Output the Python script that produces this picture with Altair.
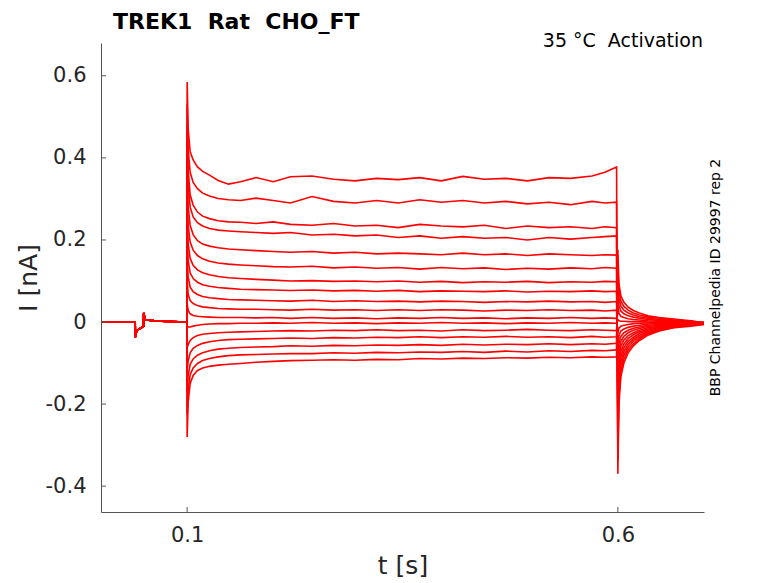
import altair as alt
import pandas as pd

# ---- axis settings ----
X_TICKS = [0.1, 0.6]
Y_TICKS = [-0.4, -0.2, 0.0, 0.2, 0.4, 0.6]
X_DOMAIN = [0.0, 0.7]
Y_DOMAIN = [-0.463, 0.68]

TITLE = "TREK1\u00a0 Rat\u00a0 CHO_FT"
NOTE = "35 °C\u00a0 Activation"
SIDE = "BBP Channelpedia ID 29997 rep 2"

# ---- common pre-pulse segment (s, nA) ----
PRE_T = [0.0, 0.0397, 0.0399, 0.0415, 0.046, 0.0493, 0.0496, 0.0515, 0.07, 0.0998]
PRE_I = [0.0, 0.0, -0.037, -0.021, -0.015, -0.011, 0.022, 0.005, 0.002, 0.0]

# ---- step segment and tail segment time points (s) ----
STEP_T = [0.1, 0.1012, 0.1035, 0.107, 0.112, 0.118, 0.126, 0.136, 0.148, 0.162,
          0.18, 0.2, 0.22, 0.245, 0.27, 0.295, 0.32, 0.345, 0.37, 0.395,
          0.42, 0.445, 0.47, 0.495, 0.52, 0.545, 0.57, 0.585, 0.5985]
TAIL_T = [0.6, 0.6012, 0.6035, 0.607, 0.612, 0.618, 0.625, 0.635, 0.648, 0.665, 0.685, 0.7]

# ---- current traces (nA): step values then tail values ----
TR01 = [0.585, 0.47, 0.415, 0.395, 0.378, 0.367, 0.358, 0.345, 0.336, 0.342,
        0.352, 0.342, 0.354, 0.356, 0.348, 0.344, 0.35, 0.347, 0.352, 0.344,
        0.355, 0.348, 0.35, 0.344, 0.352, 0.35, 0.356, 0.365, 0.378,
        -0.37, -0.2, -0.133, -0.1, -0.075, -0.058, -0.045, -0.032, -0.022, -0.014, -0.01, -0.006]
TR02 = [0.531, 0.42, 0.365, 0.34, 0.325, 0.314, 0.307, 0.301, 0.298, 0.296,
        0.302, 0.296, 0.29, 0.306, 0.294, 0.29, 0.296, 0.29, 0.298, 0.292,
        0.296, 0.29, 0.294, 0.288, 0.292, 0.286, 0.294, 0.29, 0.292,
        -0.335, -0.181, -0.121, -0.09, -0.068, -0.053, -0.041, -0.029, -0.02, -0.013, -0.008, -0.005]
TR03 = [0.477, 0.37, 0.31, 0.285, 0.268, 0.258, 0.252, 0.247, 0.244, 0.243,
        0.24, 0.244, 0.238, 0.236, 0.24, 0.234, 0.236, 0.23, 0.238, 0.234,
        0.232, 0.236, 0.228, 0.234, 0.23, 0.232, 0.228, 0.232, 0.23,
        -0.3, -0.162, -0.108, -0.081, -0.061, -0.047, -0.037, -0.026, -0.018, -0.012, -0.007, -0.003]
TR04 = [0.423, 0.33, 0.28, 0.256, 0.242, 0.234, 0.228, 0.224, 0.222, 0.22,
        0.218, 0.216, 0.218, 0.212, 0.214, 0.21, 0.212, 0.206, 0.21, 0.204,
        0.208, 0.204, 0.206, 0.2, 0.206, 0.202, 0.206, 0.208, 0.21,
        -0.266, -0.144, -0.096, -0.072, -0.054, -0.042, -0.033, -0.023, -0.016, -0.01, -0.006, -0.005]
TR05 = [0.369, 0.28, 0.235, 0.213, 0.198, 0.19, 0.185, 0.181, 0.178, 0.176,
        0.174, 0.172, 0.17, 0.172, 0.168, 0.17, 0.166, 0.168, 0.166, 0.164,
        0.168, 0.164, 0.166, 0.162, 0.166, 0.164, 0.162, 0.164, 0.163,
        -0.232, -0.125, -0.084, -0.063, -0.047, -0.037, -0.028, -0.02, -0.014, -0.009, -0.005, -0.002]
TR06 = [0.315, 0.235, 0.195, 0.175, 0.162, 0.154, 0.148, 0.144, 0.141, 0.139,
        0.137, 0.135, 0.134, 0.136, 0.132, 0.134, 0.131, 0.133, 0.129, 0.133,
        0.13, 0.132, 0.128, 0.131, 0.129, 0.132, 0.13, 0.133, 0.131,
        -0.198, -0.107, -0.072, -0.054, -0.04, -0.031, -0.024, -0.017, -0.012, -0.008, -0.005, -0.004]
TR07 = [0.261, 0.19, 0.155, 0.138, 0.127, 0.12, 0.115, 0.111, 0.108, 0.106,
        0.104, 0.102, 0.1, 0.101, 0.099, 0.1, 0.098, 0.1, 0.097, 0.099,
        0.096, 0.098, 0.097, 0.099, 0.096, 0.098, 0.097, 0.099, 0.098,
        -0.164, -0.089, -0.059, -0.044, -0.033, -0.026, -0.02, -0.014, -0.01, -0.007, -0.004, -0.001]
TR08 = [0.207, 0.15, 0.12, 0.106, 0.097, 0.091, 0.087, 0.084, 0.082, 0.08,
        0.079, 0.078, 0.077, 0.078, 0.076, 0.077, 0.075, 0.077, 0.074, 0.076,
        0.075, 0.074, 0.076, 0.073, 0.075, 0.074, 0.076, 0.074, 0.075,
        -0.13, -0.07, -0.047, -0.035, -0.026, -0.02, -0.016, -0.011, -0.008, -0.005, -0.003, -0.006]
TR09 = [0.153, 0.11, 0.085, 0.074, 0.067, 0.062, 0.059, 0.057, 0.055, 0.054,
        0.053, 0.052, 0.051, 0.053, 0.05, 0.052, 0.05, 0.051, 0.049, 0.051,
        0.05, 0.048, 0.05, 0.049, 0.051, 0.049, 0.05, 0.048, 0.05,
        -0.096, -0.052, -0.035, -0.026, -0.02, -0.015, -0.012, -0.008, -0.006, -0.004, -0.003, -0.003]
TR10 = [0.099, 0.068, 0.052, 0.045, 0.04, 0.037, 0.035, 0.033, 0.032, 0.031,
        0.031, 0.03, 0.029, 0.031, 0.029, 0.03, 0.028, 0.03, 0.028, 0.03,
        0.029, 0.027, 0.029, 0.028, 0.03, 0.028, 0.029, 0.027, 0.029,
        -0.062, -0.034, -0.022, -0.017, -0.013, -0.01, -0.008, -0.005, -0.004, -0.003, -0.002, 0.0]
TR11 = [0.045, 0.028, 0.02, 0.016, 0.014, 0.013, 0.012, 0.011, 0.011, 0.011,
        0.01, 0.011, 0.009, 0.011, 0.009, 0.01, 0.008, 0.01, 0.009, 0.011,
        0.009, 0.01, 0.008, 0.01, 0.009, 0.011, 0.009, 0.01, 0.009,
        -0.028, -0.015, -0.01, -0.008, -0.006, -0.004, -0.003, -0.002, -0.002, -0.001, -0.002, -0.004]
TR12 = [-0.009, -0.012, -0.012, -0.01, -0.008, -0.006, -0.005, -0.004, -0.004, -0.003,
        -0.003, -0.002, -0.003, -0.001, -0.003, -0.002, -0.004, -0.002, -0.003, -0.001,
        -0.003, -0.002, -0.004, -0.002, -0.003, -0.001, -0.003, -0.002, -0.003,
        0.006, 0.003, 0.002, 0.002, 0.001, 0.001, 0.001, 0.0, 0.0, -0.001, -0.002, -0.003]
TR13 = [-0.063, -0.055, -0.045, -0.038, -0.033, -0.03, -0.028, -0.026, -0.025, -0.024,
        -0.023, -0.022, -0.021, -0.022, -0.02, -0.021, -0.019, -0.021, -0.02, -0.022,
        -0.019, -0.021, -0.02, -0.018, -0.02, -0.021, -0.019, -0.02, -0.021,
        0.04, 0.021, 0.014, 0.011, 0.008, 0.006, 0.005, 0.003, 0.002, 0.001, 0.0, -0.002]
TR14 = [-0.117, -0.095, -0.075, -0.064, -0.057, -0.052, -0.048, -0.045, -0.043, -0.042,
        -0.041, -0.04, -0.039, -0.04, -0.038, -0.039, -0.037, -0.038, -0.036, -0.038,
        -0.036, -0.037, -0.035, -0.037, -0.036, -0.038, -0.035, -0.037, -0.036,
        0.074, 0.04, 0.027, 0.02, 0.015, 0.012, 0.009, 0.006, 0.004, 0.003, 0.001, -0.004]
TR15 = [-0.171, -0.13, -0.103, -0.09, -0.081, -0.075, -0.07, -0.066, -0.064, -0.062,
        -0.061, -0.06, -0.058, -0.059, -0.057, -0.058, -0.056, -0.057, -0.055, -0.057,
        -0.054, -0.056, -0.054, -0.055, -0.053, -0.055, -0.053, -0.054, -0.052,
        0.108, 0.058, 0.039, 0.029, 0.022, 0.017, 0.013, 0.009, 0.006, 0.004, 0.002, -0.001]
TR16 = [-0.225, -0.165, -0.128, -0.112, -0.101, -0.094, -0.089, -0.085, -0.082, -0.08,
        -0.079, -0.078, -0.077, -0.077, -0.075, -0.076, -0.074, -0.075, -0.073, -0.074,
        -0.072, -0.074, -0.071, -0.073, -0.07, -0.072, -0.069, -0.07, -0.068,
        0.142, 0.077, 0.051, 0.038, 0.029, 0.022, 0.017, 0.012, 0.009, 0.005, 0.002, -0.003]
TR17 = [-0.28, -0.195, -0.15, -0.13, -0.118, -0.112, -0.108, -0.105, -0.103, -0.101,
        -0.098, -0.096, -0.094, -0.093, -0.092, -0.093, -0.091, -0.092, -0.089, -0.09,
        -0.088, -0.089, -0.087, -0.088, -0.086, -0.087, -0.085, -0.086, -0.085,
        0.176, 0.095, 0.064, 0.048, 0.036, 0.028, 0.022, 0.015, 0.011, 0.007, 0.003, -0.002]

TRACES = [TR01, TR02, TR03, TR04, TR05, TR06, TR07, TR08, TR09, TR10,
          TR11, TR12, TR13, TR14, TR15, TR16, TR17]

# ---- build long table ----
times = PRE_T + STEP_T + TAIL_T
rows = []
for n, tr in enumerate(TRACES):
    vals = PRE_I + tr
    assert len(vals) == len(times), (n, len(vals), len(times))
    for k, (t, v) in enumerate(zip(times, vals)):
        rows.append({"trace": n, "k": k, "t": t, "i": v})
df = pd.DataFrame(rows)

W, H = 603, 469
FONT = "DejaVu Sans"
AX = "#555555"
LAB = "#262626"

xscale = alt.Scale(domain=X_DOMAIN, nice=False, zero=False)
yscale = alt.Scale(domain=Y_DOMAIN, nice=False, zero=False)

x_axis = alt.Axis(
    values=X_TICKS, format=".1f", grid=False, ticks=False,
    domainColor=AX, domainWidth=1, labelFont=FONT, labelFontSize=21,
    labelColor=LAB, labelPadding=12, labelFlush=False,
    title="t [s]", titleFont=FONT, titleFontSize=25, titleFontWeight="normal",
    titleColor=LAB, titleX=W / 2, titleY=53, titleBaseline="middle",
    titleAlign="center")
y_axis = alt.Axis(
    values=Y_TICKS,
    labelExpr="datum.value == 0 ? '0' : toString(round(datum.value * 10) / 10)",
    grid=False, ticks=False,
    domainColor=AX, domainWidth=1, labelFont=FONT, labelFontSize=21,
    labelColor=LAB, labelPadding=15, labelFlush=False,
    title="I [nA]", titleFont=FONT, titleFontSize=25, titleFontWeight="normal",
    titleColor=LAB, titleX=-73, titleY=H / 2, titleBaseline="middle",
    titleAlign="center", titleAngle=270)

lines = alt.Chart(df).mark_line(color="#ff0000", strokeWidth=1.6, clip=True).encode(
    x=alt.X("t:Q", scale=xscale, axis=x_axis),
    y=alt.Y("i:Q", scale=yscale, axis=y_axis),
    detail="trace:N",
    order="k:Q",
)

# inward tick marks (MATLAB style)
xticks = alt.Chart(pd.DataFrame({"t": X_TICKS})).mark_rule(color=AX, strokeWidth=1).encode(
    x=alt.X("t:Q", scale=xscale, axis=x_axis),
    y=alt.value(H), y2=alt.value(H - 5),
)
yticks = alt.Chart(pd.DataFrame({"i": Y_TICKS})).mark_rule(color=AX, strokeWidth=1).encode(
    y=alt.Y("i:Q", scale=yscale, axis=y_axis),
    x=alt.value(0), x2=alt.value(5),
)

title = alt.Chart(pd.DataFrame({"s": [TITLE]})).mark_text(
    align="left", baseline="alphabetic", font=FONT, fontSize=22, fontWeight="bold", color="black"
).encode(text="s:N", x=alt.value(12), y=alt.value(-14))

note = alt.Chart(pd.DataFrame({"s": [NOTE]})).mark_text(
    align="right", baseline="middle", font=FONT, fontSize=19, color="black"
).encode(text="s:N", x=alt.value(W - 1), y=alt.value(-2))

side = alt.Chart(pd.DataFrame({"s": [SIDE]})).mark_text(
    align="center", baseline="middle", font=FONT, fontSize=14, color="black", angle=270
).encode(text="s:N", x=alt.value(615), y=alt.value(H / 2))

chart = alt.layer(lines, xticks, yticks, title, note, side).properties(
    width=W, height=H,
    padding={"left": 93, "top": 35, "right": 66, "bottom": 70},
    autosize=alt.AutoSizeParams(type="none"),
).configure_view(stroke=None)

chart.save("out.html", embed_options={"renderer": "svg", "actions": False})
